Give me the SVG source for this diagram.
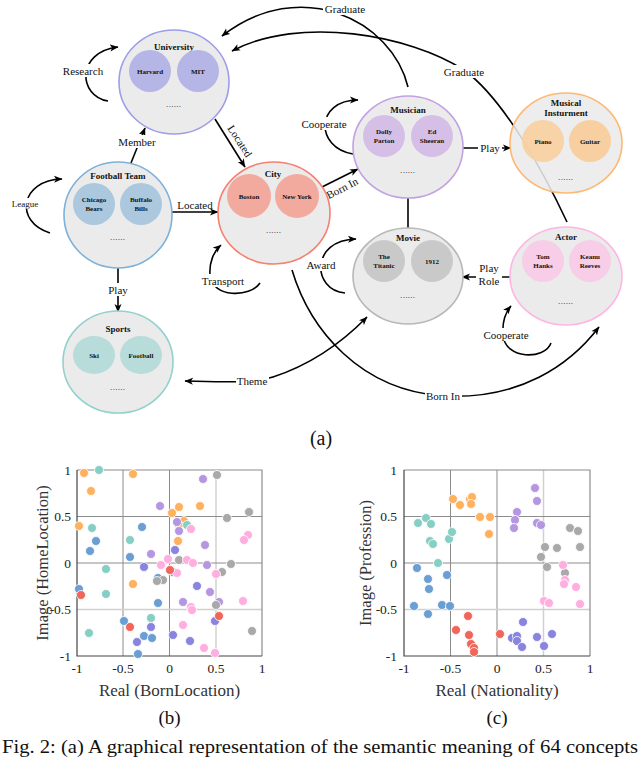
<svg xmlns="http://www.w3.org/2000/svg" width="640" height="760" viewBox="0 0 640 760">
<defs>
<marker id="ah" markerWidth="9" markerHeight="8" refX="8" refY="4" orient="auto-start-reverse" markerUnits="userSpaceOnUse"><path d="M0,0.5 L8.5,4 L0,7.5 L2.2,4 z" fill="#000"/></marker>
<style>
.c{fill:none;stroke:#000;stroke-width:1.6}
.l{font-family:"Liberation Serif",serif;font-size:11px;fill:#111;text-anchor:middle}
.bg{fill:#fff}
.n{fill:#ebebeb;stroke-width:1.6}
.t{font-family:"Liberation Serif",serif;font-size:9px;font-weight:bold;fill:#111;text-anchor:middle}
.i{font-family:"Liberation Serif",serif;font-size:7px;font-weight:bold;fill:#111;text-anchor:middle}
.d{font-family:"Liberation Serif",serif;font-size:7px;font-weight:bold;fill:#333;text-anchor:middle;letter-spacing:0.8px}
.ax{font-family:"Liberation Serif",serif;font-size:13.5px;fill:#222}
.axl{font-family:"Liberation Serif",serif;font-size:17px;fill:#333;text-anchor:middle}
.cap{font-family:"Liberation Serif",serif;font-size:19px;fill:#111;text-anchor:middle}
.g1{stroke:#8c8c8c;stroke-width:1}
.g2{stroke:#d0d0d0;stroke-width:1.5}
.p circle{stroke:#fff;stroke-width:0.8}
.o{fill:#ffb15e}.tl{fill:#86cfc5}.b{fill:#6b9fd4}.ib{fill:#8884df}.pu{fill:#b497e0}.gr{fill:#a9a9a9}.pk{fill:#ffaee0}.r{fill:#f0665a}
</style>
</defs>
<rect width="640" height="760" fill="#fff"/>

<g id="connectors">
<path class="c" d="M108,101 C 78,96 76,52 118,47" marker-end="url(#ah)"/>
<path class="c" d="M131,163 L145,128" marker-end="url(#ah)"/>
<path class="c" d="M215,119 L245,167" marker-end="url(#ah)"/>
<path class="c" d="M50,233 C 14,222 20,180 62,179" marker-end="url(#ah)"/>
<path class="c" d="M172,212 L218,212" marker-end="url(#ah)"/>
<path class="c" d="M118,268 L118,312" marker-end="url(#ah)"/>
<path class="c" d="M260,283 C 250,298 212,298 210,275 C 209,262 214,251 221,245" marker-end="url(#ah)"/>
<path class="c" d="M408,87 C 392,20 300,-25 222,36" marker-end="url(#ah)"/>
<path class="c" d="M567,222 C 545,175 505,100 464,70 C 410,35 300,15 232,51" marker-end="url(#ah)"/>
<path class="c" d="M353,154 C 315,148 315,100 358,100" marker-end="url(#ah)"/>
<path class="c" d="M322,187 L358,169" marker-end="url(#ah)"/>
<path class="c" d="M463,148 L511,148" marker-end="url(#ah)"/>
<path class="c" d="M408,198 L408,228"/>
<path class="c" d="M512,277 L462,277" marker-end="url(#ah)"/>
<path class="c" d="M345,293 C 312,290 310,240 356,239" marker-end="url(#ah)"/>
<path class="c" d="M551,343 C 545,360 505,360 503,335 C 502,322 505,313 511,306" marker-end="url(#ah)"/>
<path class="c" d="M367,317 Q 325,360 273,377 C 260,381 245,383 185,381" marker-start="url(#ah)" marker-end="url(#ah)"/>
<path class="c" d="M292,270 C 310,330 360,390 443,396 C 520,400 570,365 599,327" marker-end="url(#ah)"/>

<rect class="bg" x="62" y="64" width="42" height="13"/>
<text class="l" x="83" y="75">Research</text>
<rect class="bg" x="118" y="135" width="39" height="13"/>
<text class="l" x="137" y="146">Member</text>
<text class="l" x="240" y="141" transform="rotate(57 240 141)" dy="4">Located</text>
<rect class="bg" x="11" y="198" width="28" height="11"/>
<text class="l" x="25" y="207" style="font-size:9px">League</text>
<text class="l" x="195" y="209">Located</text>
<rect class="bg" x="106" y="283" width="24" height="13"/>
<text class="l" x="118" y="294">Play</text>
<rect class="bg" x="200" y="274" width="46" height="13"/>
<text class="l" x="223" y="285">Transport</text>
<rect class="bg" x="323" y="2" width="44" height="13"/>
<text class="l" x="345" y="13">Graduate</text>
<rect class="bg" x="442" y="65" width="44" height="13"/>
<text class="l" x="464" y="76">Graduate</text>
<rect class="bg" x="300" y="117" width="48" height="13"/>
<text class="l" x="324" y="128">Cooperate</text>
<text class="l" x="342" y="188" transform="rotate(-27 342 188)" dy="4">Born In</text>
<rect class="bg" x="478" y="141" width="24" height="13"/>
<text class="l" x="490" y="152">Play</text>
<rect class="bg" x="306" y="258" width="31" height="13"/>
<text class="l" x="321" y="269">Award</text>
<rect class="bg" x="476" y="261" width="26" height="26"/>
<text class="l" x="489" y="272">Play</text>
<text class="l" x="489" y="285">Role</text>
<rect class="bg" x="482" y="328" width="48" height="13"/>
<text class="l" x="506" y="339">Cooperate</text>
<rect class="bg" x="236" y="374" width="33" height="13"/>
<text class="l" x="252" y="385">Theme</text>
<rect class="bg" x="425" y="389" width="37" height="13"/>
<text class="l" x="443" y="400">Born In</text>
</g>

<g id="node-university">
<ellipse class="n" cx="174" cy="82" rx="55" ry="52" stroke="#9d9deb"/>
<text class="t" x="174" y="50">University</text>
<circle cx="150" cy="71" r="21" fill="#b5b5e6"/>
<circle cx="198" cy="71" r="21" fill="#b5b5e6"/>
<text class="i" x="150" y="74">Harvard</text>
<text class="i" x="198" y="74">MIT</text>
<text class="d" x="174" y="107">......</text>
</g>

<g id="node-football-team">
<ellipse class="n" cx="118" cy="215" rx="54" ry="53" stroke="#7cb1d9"/>
<text class="t" x="118" y="179">Football Team</text>
<circle cx="94" cy="204" r="21" fill="#abc8de"/>
<circle cx="141" cy="204" r="21" fill="#abc8de"/>
<text class="i" x="94" y="202">Chicago</text>
<text class="i" x="94" y="211">Bears</text>
<text class="i" x="141" y="202">Buffalo</text>
<text class="i" x="141" y="211">Bills</text>
<text class="d" x="118" y="240">......</text>
</g>

<g id="node-city">
<ellipse class="n" cx="274" cy="213" rx="56" ry="51" stroke="#f5806f"/>
<text class="t" x="273" y="177">City</text>
<circle cx="249" cy="196" r="22" fill="#f2aa9e"/>
<circle cx="297" cy="196" r="22" fill="#f2aa9e"/>
<text class="i" x="249" y="199">Boston</text>
<text class="i" x="297" y="199">New York</text>
<text class="d" x="274" y="233">......</text>
</g>

<g id="node-musician">
<ellipse class="n" cx="408" cy="147" rx="55" ry="51" stroke="#c2a2e2"/>
<text class="t" x="408" y="113">Musician</text>
<circle cx="384" cy="136" r="21" fill="#d5bfe7"/>
<circle cx="432" cy="136" r="21" fill="#d5bfe7"/>
<text class="i" x="384" y="134">Dolly</text>
<text class="i" x="384" y="143">Parton</text>
<text class="i" x="432" y="134">Ed</text>
<text class="i" x="432" y="143">Sheeran</text>
<text class="d" x="408" y="173">......</text>
</g>

<g id="node-musical-instrument">
<ellipse class="n" cx="566" cy="143" rx="56" ry="50" stroke="#ffb872" fill-opacity="0.88"/>
<text class="t" x="566" y="106">Musical</text>
<text class="t" x="566" y="116">Insturment</text>
<circle cx="543" cy="141" r="21" fill="#f8cfa0" fill-opacity="0.9"/>
<circle cx="590" cy="141" r="21" fill="#f8cfa0"/>
<text class="i" x="543" y="144">Piano</text>
<text class="i" x="590" y="144">Guitar</text>
<text class="d" x="566" y="180">......</text>
</g>

<g id="node-movie">
<ellipse class="n" cx="408" cy="276" rx="55" ry="48" stroke="#b8b8b8"/>
<text class="t" x="408" y="241">Movie</text>
<circle cx="384" cy="261" r="21" fill="#c9c9c9"/>
<circle cx="432" cy="261" r="21" fill="#c9c9c9"/>
<text class="i" x="384" y="259">The</text>
<text class="i" x="384" y="268">Titanic</text>
<text class="i" x="432" y="264">1912</text>
<text class="d" x="408" y="298">......</text>
</g>

<g id="node-actor">
<ellipse class="n" cx="566" cy="276" rx="56" ry="49" stroke="#ffb5e3"/>
<text class="t" x="566" y="240">Actor</text>
<circle cx="543" cy="261" r="21" fill="#f7cde7"/>
<circle cx="590" cy="261" r="21" fill="#f7cde7"/>
<text class="i" x="543" y="259">Tom</text>
<text class="i" x="543" y="268">Hanks</text>
<text class="i" x="590" y="259">Keanu</text>
<text class="i" x="590" y="268">Reeves</text>
<text class="d" x="566" y="304">......</text>
</g>

<g id="node-sports">
<ellipse class="n" cx="118" cy="362" rx="55" ry="51" stroke="#92d1cd"/>
<text class="t" x="118" y="332">Sports</text>
<ellipse cx="94" cy="355" rx="21" ry="19" fill="#b7dcda"/>
<ellipse cx="141" cy="355" rx="21" ry="19" fill="#b7dcda"/>
<text class="i" x="94" y="358">Ski</text>
<text class="i" x="141" y="358">Football</text>
<text class="d" x="118" y="390">......</text>
</g>

<text class="cap" x="321" y="445" style="font-size:20px">(a)</text>

<g id="plot-b">
<line class="g1" x1="123" y1="470" x2="123" y2="656"/>
<line class="g1" x1="169.5" y1="470" x2="169.5" y2="656"/>
<line class="g2" x1="216" y1="470" x2="216" y2="656"/>
<line class="g1" x1="77" y1="516.5" x2="262" y2="516.5"/>
<line class="g1" x1="77" y1="563" x2="262" y2="563"/>
<line class="g2" x1="77" y1="609.5" x2="262" y2="609.5"/>
<path d="M77,470 H262 V656" fill="none" stroke="#8c8c8c" stroke-width="1.2"/>
<path d="M77,470 V656 H262" fill="none" stroke="#444" stroke-width="1.2"/>
<g class="p">
<circle class="o" cx="84" cy="473" r="4.5"/><circle class="o" cx="133" cy="474" r="4.5"/><circle class="o" cx="91" cy="491" r="4.5"/><circle class="o" cx="79" cy="526" r="4.5"/><circle class="o" cx="172" cy="513" r="4.5"/><circle class="o" cx="179" cy="507" r="4.5"/><circle class="o" cx="184" cy="521" r="4.5"/><circle class="o" cx="179" cy="525" r="4.5"/><circle class="o" cx="178" cy="541" r="4.5"/><circle class="o" cx="200" cy="506" r="4.5"/><circle class="o" cx="133" cy="584" r="4.5"/>
<circle class="tl" cx="99" cy="470" r="4.5"/><circle class="tl" cx="92" cy="528" r="4.5"/><circle class="tl" cx="130" cy="540" r="4.5"/><circle class="tl" cx="106" cy="569" r="4.5"/><circle class="tl" cx="106" cy="594" r="4.5"/><circle class="tl" cx="89" cy="633" r="4.5"/><circle class="tl" cx="151" cy="618" r="4.5"/><circle class="tl" cx="187" cy="525" r="4.5"/>
<circle class="b" cx="96" cy="541" r="4.5"/><circle class="b" cx="90" cy="551" r="4.5"/><circle class="b" cx="142" cy="527" r="4.5"/><circle class="b" cx="130" cy="557" r="4.5"/><circle class="b" cx="79" cy="589" r="4.5"/><circle class="b" cx="158" cy="603" r="4.5"/><circle class="b" cx="173" cy="572" r="4.5"/><circle class="b" cx="158" cy="578" r="4.5"/><circle class="b" cx="124" cy="621" r="4.5"/><circle class="b" cx="144" cy="636" r="4.5"/><circle class="b" cx="152" cy="638" r="4.5"/><circle class="b" cx="138" cy="654" r="4.5"/>
<circle class="ib" cx="175" cy="550" r="4.5"/><circle class="ib" cx="144" cy="567" r="4.5"/><circle class="ib" cx="197" cy="586" r="4.5"/><circle class="ib" cx="215" cy="621" r="4.5"/><circle class="ib" cx="173" cy="635" r="4.5"/><circle class="ib" cx="190" cy="641" r="4.5"/><circle class="ib" cx="137" cy="642" r="4.5"/><circle class="ib" cx="151" cy="627" r="4.5"/>
<circle class="pu" cx="203" cy="479" r="4.5"/><circle class="pu" cx="160" cy="506" r="4.5"/><circle class="pu" cx="177" cy="522" r="4.5"/><circle class="pu" cx="179" cy="531" r="4.5"/><circle class="pu" cx="151" cy="554" r="4.5"/><circle class="pu" cx="205" cy="545" r="4.5"/><circle class="pu" cx="207" cy="565" r="4.5"/><circle class="pu" cx="210" cy="592" r="4.5"/><circle class="pu" cx="183" cy="602" r="4.5"/><circle class="pu" cx="219" cy="602" r="4.5"/>
<circle class="gr" cx="217" cy="475" r="4.5"/><circle class="gr" cx="227" cy="518" r="4.5"/><circle class="gr" cx="249" cy="512" r="4.5"/><circle class="gr" cx="231" cy="564" r="4.5"/><circle class="gr" cx="222" cy="572" r="4.5"/><circle class="gr" cx="179" cy="560" r="4.5"/><circle class="gr" cx="163" cy="580" r="4.5"/><circle class="gr" cx="157" cy="581" r="4.5"/><circle class="gr" cx="216" cy="605" r="4.5"/><circle class="gr" cx="252" cy="631" r="4.5"/>
<circle class="pk" cx="191" cy="529" r="4.5"/><circle class="pk" cx="248" cy="535" r="4.5"/><circle class="pk" cx="244" cy="540" r="4.5"/><circle class="pk" cx="168" cy="559" r="4.5"/><circle class="pk" cx="161" cy="565" r="4.5"/><circle class="pk" cx="187" cy="560" r="4.5"/><circle class="pk" cx="193" cy="563" r="4.5"/><circle class="pk" cx="177" cy="573" r="4.5"/><circle class="pk" cx="216" cy="574" r="4.5"/><circle class="pk" cx="243" cy="601" r="4.5"/><circle class="pk" cx="191" cy="607" r="4.5"/><circle class="pk" cx="192" cy="610" r="4.5"/><circle class="pk" cx="183" cy="625" r="4.5"/><circle class="pk" cx="204" cy="648" r="4.5"/><circle class="pk" cx="215" cy="653" r="4.5"/>
<circle class="r" cx="81" cy="595" r="4.5"/><circle class="r" cx="130" cy="627" r="4.5"/><circle class="r" cx="170" cy="570" r="4.5"/><circle class="r" cx="219" cy="616" r="4.5"/>
</g>
<g class="ax" text-anchor="end">
<text x="71" y="475">1</text><text x="71" y="521">0.5</text><text x="71" y="568">0</text><text x="71" y="614">-0.5</text><text x="71" y="661">-1</text>
</g>
<g class="ax" text-anchor="middle">
<text x="77" y="673">-1</text><text x="123" y="673">-0.5</text><text x="169.5" y="673">0</text><text x="216" y="673">0.5</text><text x="262" y="673">1</text>
</g>
<text class="axl" x="169.5" y="696">Real (BornLocation)</text>
<text class="axl" x="48" y="563" transform="rotate(-90 48 563)" style="font-size:16.5px">Image (HomeLocation)</text>
<text class="cap" x="169.5" y="724">(b)</text>
</g>

<g id="plot-c">
<line class="g1" x1="450.5" y1="470" x2="450.5" y2="656"/>
<line class="g1" x1="497" y1="470" x2="497" y2="656"/>
<line class="g2" x1="543.5" y1="470" x2="543.5" y2="656"/>
<line class="g1" x1="404" y1="516.5" x2="590" y2="516.5"/>
<line class="g1" x1="404" y1="563" x2="590" y2="563"/>
<line class="g2" x1="404" y1="609.5" x2="590" y2="609.5"/>
<path d="M404,470 H590 V656" fill="none" stroke="#8c8c8c" stroke-width="1.2"/>
<path d="M404,470 V656 H590" fill="none" stroke="#444" stroke-width="1.2"/>
<g class="p">
<circle class="o" cx="453" cy="499" r="4.5"/><circle class="o" cx="460" cy="505" r="4.5"/><circle class="o" cx="470" cy="499" r="4.5"/><circle class="o" cx="472" cy="497" r="4.5"/><circle class="o" cx="471" cy="504" r="4.5"/><circle class="o" cx="480" cy="517" r="4.5"/><circle class="o" cx="490" cy="517" r="4.5"/><circle class="o" cx="489" cy="534" r="4.5"/>
<circle class="tl" cx="418" cy="523" r="4.5"/><circle class="tl" cx="426" cy="518" r="4.5"/><circle class="tl" cx="431" cy="524" r="4.5"/><circle class="tl" cx="430" cy="541" r="4.5"/><circle class="tl" cx="433" cy="544" r="4.5"/><circle class="tl" cx="438" cy="563" r="4.5"/><circle class="tl" cx="449" cy="539" r="4.5"/><circle class="tl" cx="452" cy="532" r="4.5"/>
<circle class="b" cx="417" cy="568" r="4.5"/><circle class="b" cx="428" cy="579" r="4.5"/><circle class="b" cx="429" cy="589" r="4.5"/><circle class="b" cx="414" cy="606" r="4.5"/><circle class="b" cx="428" cy="614" r="4.5"/><circle class="b" cx="442" cy="605" r="4.5"/><circle class="b" cx="450" cy="606" r="4.5"/><circle class="b" cx="447" cy="575" r="4.5"/>
<circle class="r" cx="456" cy="630" r="4.5"/><circle class="r" cx="468" cy="616" r="4.5"/><circle class="r" cx="469" cy="635" r="4.5"/><circle class="r" cx="471" cy="644" r="4.5"/><circle class="r" cx="474" cy="648" r="4.5"/><circle class="r" cx="474" cy="652" r="4.5"/><circle class="r" cx="500" cy="634" r="4.5"/>
<circle class="ib" cx="512" cy="638" r="4.5"/><circle class="ib" cx="517" cy="636" r="4.5"/><circle class="ib" cx="517" cy="641" r="4.5"/><circle class="ib" cx="523" cy="622" r="4.5"/><circle class="ib" cx="522" cy="647" r="4.5"/><circle class="ib" cx="537" cy="637" r="4.5"/><circle class="ib" cx="544" cy="646" r="4.5"/><circle class="ib" cx="552" cy="634" r="4.5"/>
<circle class="pu" cx="535" cy="488" r="4.5"/><circle class="pu" cx="537" cy="501" r="4.5"/><circle class="pu" cx="517" cy="512" r="4.5"/><circle class="pu" cx="515" cy="520" r="4.5"/><circle class="pu" cx="514" cy="528" r="4.5"/><circle class="pu" cx="537" cy="523" r="4.5"/><circle class="pu" cx="541" cy="525" r="4.5"/>
<circle class="gr" cx="570" cy="528" r="4.5"/><circle class="gr" cx="578" cy="531" r="4.5"/><circle class="gr" cx="580" cy="547" r="4.5"/><circle class="gr" cx="557" cy="548" r="4.5"/><circle class="gr" cx="545" cy="547" r="4.5"/><circle class="gr" cx="541" cy="557" r="4.5"/><circle class="gr" cx="547" cy="567" r="4.5"/><circle class="gr" cx="565" cy="573" r="4.5"/>
<circle class="pk" cx="563" cy="565" r="4.5"/><circle class="pk" cx="565" cy="580" r="4.5"/><circle class="pk" cx="564" cy="584" r="4.5"/><circle class="pk" cx="576" cy="587" r="4.5"/><circle class="pk" cx="580" cy="604" r="4.5"/><circle class="pk" cx="544" cy="601" r="4.5"/><circle class="pk" cx="549" cy="603" r="4.5"/>
</g>
<g class="ax" text-anchor="end">
<text x="397" y="475">1</text><text x="397" y="521">0.5</text><text x="397" y="568">0</text><text x="397" y="614">-0.5</text><text x="397" y="661">-1</text>
</g>
<g class="ax" text-anchor="middle">
<text x="404" y="673">-1</text><text x="450.5" y="673">-0.5</text><text x="497" y="673">0</text><text x="543.5" y="673">0.5</text><text x="590" y="673">1</text>
</g>
<text class="axl" x="497" y="696">Real (Nationality)</text>
<text class="axl" x="371" y="563" transform="rotate(-90 371 563)" style="font-size:16.5px">Image (Profession)</text>
<text class="cap" x="497" y="724">(c)</text>
</g>

<text x="2" y="753" style="font-family:'Liberation Serif',serif;font-size:18px;fill:#111" textLength="636" lengthAdjust="spacingAndGlyphs">Fig. 2: (a) A graphical representation of the semantic meaning of 64 concepts</text>
</svg>
